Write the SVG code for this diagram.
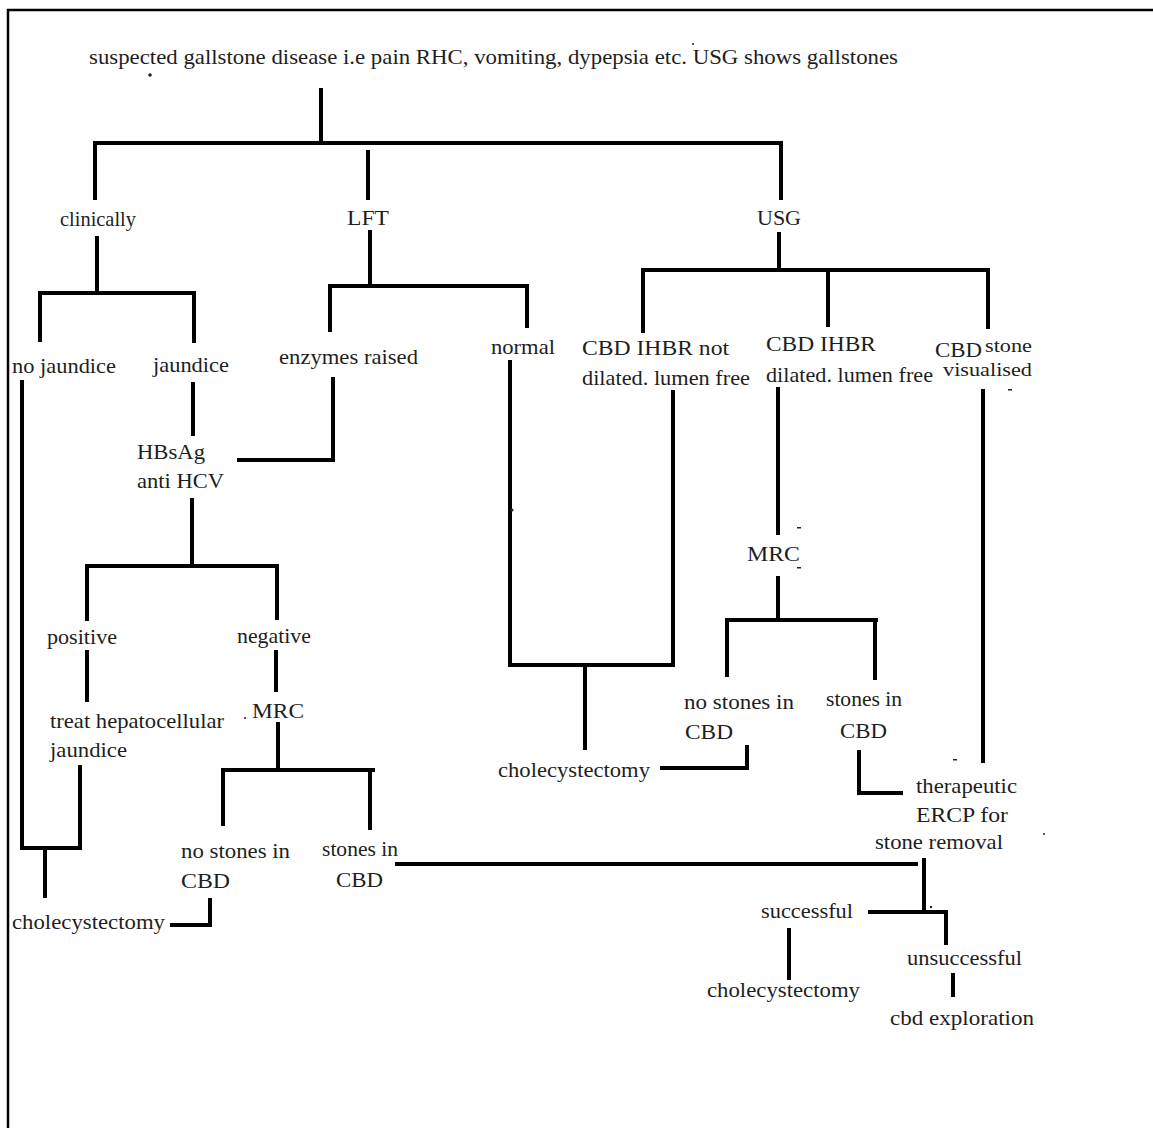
<svg xmlns="http://www.w3.org/2000/svg" width="1153" height="1128" viewBox="0 0 1153 1128">
<style>
text{font-family:"Liberation Serif","Times New Roman",serif;font-size:21px;fill:#1e1e1e}
.s{font-size:18px}
.c{fill:none;stroke:#000;stroke-width:4}
.f{fill:none;stroke:#000;stroke-width:2.5}
.m{fill:#222}
</style>
<rect width="1153" height="1128" fill="#fff"/>
<path class="f" d="M8,1128 V10 H1153"/>
<g id="connectors">
<path class="c" d="M321,88 V143 M95,200 V143 H781 V200 M368,150 V200"/>
<path class="c" d="M97,236 V293 M40,342 V293 H194 V343"/>
<path class="c" d="M370,230 V286 M330,332 V286 H527 V328"/>
<path class="c" d="M779,232 V270 M643,333 V270 H988 V329 M828,270 V327"/>
<path class="c" d="M193,382 V436"/>
<path class="c" d="M333,377 V460 H237"/>
<path class="c" d="M192,498 V566 M87,621 V566 H277 V620"/>
<path class="c" d="M192,566 H215" stroke-width="6"/>
<path class="c" d="M87,650 V702"/>
<path class="c" d="M276,650 V692"/>
<path class="c" d="M278,722 V770 M223,826 V770 H375 M370,770 V830"/>
<path class="c" d="M210,898 V925 H170"/>
<path class="c" d="M80,765 V848 H22 V380 M45,848 V898"/>
<path class="c" d="M395,864 H918"/>
<path class="c" d="M510,360 V665 H673 V390 M585,665 V750"/>
<path class="c" d="M778,387 V535 M778,576 V620 M727,677 V620 H878 M875,620 V680"/>
<path class="c" d="M747,745 V768 H660"/>
<path class="c" d="M859,750 V793 H903"/>
<path class="c" d="M983,389 V763"/>
<path class="c" d="M924,858 V912 M868,912 H948 M946,912 V945"/>
<path class="c" d="M789,928 V980"/>
<path class="c" d="M953,973 V997"/>
</g>
<g id="marks">
<circle class="m" cx="150" cy="75" r="1.8"/>
<circle class="m" cx="693" cy="44" r="1"/>
<circle class="m" cx="245" cy="718" r="1"/>
<rect class="m" x="797" y="527" width="4" height="1.5"/>
<rect class="m" x="797" y="567" width="4" height="1.5"/>
<rect class="m" x="1008" y="389" width="4" height="1.5"/>
<rect class="m" x="953" y="759" width="4" height="1.5"/>
<circle class="m" cx="1044" cy="834" r="1"/>
<circle class="m" cx="931" cy="907" r="1.2"/>
<circle class="m" cx="512" cy="510" r="1.5"/>
</g>
<g id="n-root"><text x="89" y="64" textLength="809" lengthAdjust="spacingAndGlyphs">suspected gallstone disease i.e pain RHC, vomiting, dypepsia etc. USG shows gallstones</text></g>
<g id="n-clinically"><text x="60" y="226" textLength="76" lengthAdjust="spacingAndGlyphs">clinically</text></g>
<g id="n-lft"><text x="347" y="225" textLength="42" lengthAdjust="spacingAndGlyphs">LFT</text></g>
<g id="n-usg"><text x="757" y="225" textLength="44" lengthAdjust="spacingAndGlyphs">USG</text></g>
<g id="n-nojaundice"><text x="12" y="373" textLength="104" lengthAdjust="spacingAndGlyphs">no jaundice</text></g>
<g id="n-jaundice"><text x="153" y="372" textLength="76" lengthAdjust="spacingAndGlyphs">jaundice</text></g>
<g id="n-enzymes"><text x="279" y="364" textLength="139" lengthAdjust="spacingAndGlyphs">enzymes raised</text></g>
<g id="n-normal"><text x="491" y="354" textLength="64" lengthAdjust="spacingAndGlyphs">normal</text></g>
<g id="n-notdilated"><text x="582" y="355" textLength="147" lengthAdjust="spacingAndGlyphs">CBD IHBR not</text><text x="582" y="385" textLength="168" lengthAdjust="spacingAndGlyphs">dilated. lumen free</text></g>
<g id="n-dilated"><text x="766" y="351" textLength="110" lengthAdjust="spacingAndGlyphs">CBD IHBR</text><text x="766" y="382" textLength="167" lengthAdjust="spacingAndGlyphs">dilated. lumen free</text></g>
<g id="n-stone"><text x="935" y="357" textLength="47" lengthAdjust="spacingAndGlyphs">CBD</text><text class="s" x="985" y="352" textLength="47" lengthAdjust="spacingAndGlyphs">stone</text><text class="s" x="943" y="376" textLength="89" lengthAdjust="spacingAndGlyphs">visualised</text></g>
<g id="n-hbsag"><text x="137" y="459" textLength="68" lengthAdjust="spacingAndGlyphs">HBsAg</text><text x="137" y="488" textLength="87" lengthAdjust="spacingAndGlyphs">anti HCV</text></g>
<g id="n-positive"><text x="47" y="644" textLength="70" lengthAdjust="spacingAndGlyphs">positive</text></g>
<g id="n-negative"><text x="237" y="643" textLength="74" lengthAdjust="spacingAndGlyphs">negative</text></g>
<g id="n-treat"><text x="50" y="728" textLength="174" lengthAdjust="spacingAndGlyphs">treat hepatocellular</text><text x="50" y="757" textLength="77" lengthAdjust="spacingAndGlyphs">jaundice</text></g>
<g id="n-mrc1"><text x="252" y="718" textLength="52" lengthAdjust="spacingAndGlyphs">MRC</text></g>
<g id="n-nostones1"><text x="181" y="858" textLength="109" lengthAdjust="spacingAndGlyphs">no stones in</text><text x="181" y="888" textLength="49" lengthAdjust="spacingAndGlyphs">CBD</text></g>
<g id="n-stones1"><text x="322" y="856" textLength="76" lengthAdjust="spacingAndGlyphs">stones in</text><text x="336" y="887" textLength="47" lengthAdjust="spacingAndGlyphs">CBD</text></g>
<g id="n-chole1"><text x="12" y="929" textLength="153" lengthAdjust="spacingAndGlyphs">cholecystectomy</text></g>
<g id="n-chole2"><text x="498" y="777" textLength="152" lengthAdjust="spacingAndGlyphs">cholecystectomy</text></g>
<g id="n-mrc2"><text x="747" y="561" textLength="53" lengthAdjust="spacingAndGlyphs">MRC</text></g>
<g id="n-nostones2"><text x="684" y="709" textLength="110" lengthAdjust="spacingAndGlyphs">no stones in</text><text x="685" y="739" textLength="48" lengthAdjust="spacingAndGlyphs">CBD</text></g>
<g id="n-stones2"><text x="826" y="706" textLength="76" lengthAdjust="spacingAndGlyphs">stones in</text><text x="840" y="738" textLength="47" lengthAdjust="spacingAndGlyphs">CBD</text></g>
<g id="n-ercp"><text x="916" y="793" textLength="101" lengthAdjust="spacingAndGlyphs">therapeutic</text><text x="916" y="822" textLength="92" lengthAdjust="spacingAndGlyphs">ERCP for</text><text x="875" y="849" textLength="128" lengthAdjust="spacingAndGlyphs">stone removal</text></g>
<g id="n-successful"><text x="761" y="918" textLength="92" lengthAdjust="spacingAndGlyphs">successful</text></g>
<g id="n-unsuccessful"><text x="907" y="965" textLength="115" lengthAdjust="spacingAndGlyphs">unsuccessful</text></g>
<g id="n-chole3"><text x="707" y="997" textLength="153" lengthAdjust="spacingAndGlyphs">cholecystectomy</text></g>
<g id="n-cbdexp"><text x="890" y="1025" textLength="144" lengthAdjust="spacingAndGlyphs">cbd exploration</text></g>
</svg>
